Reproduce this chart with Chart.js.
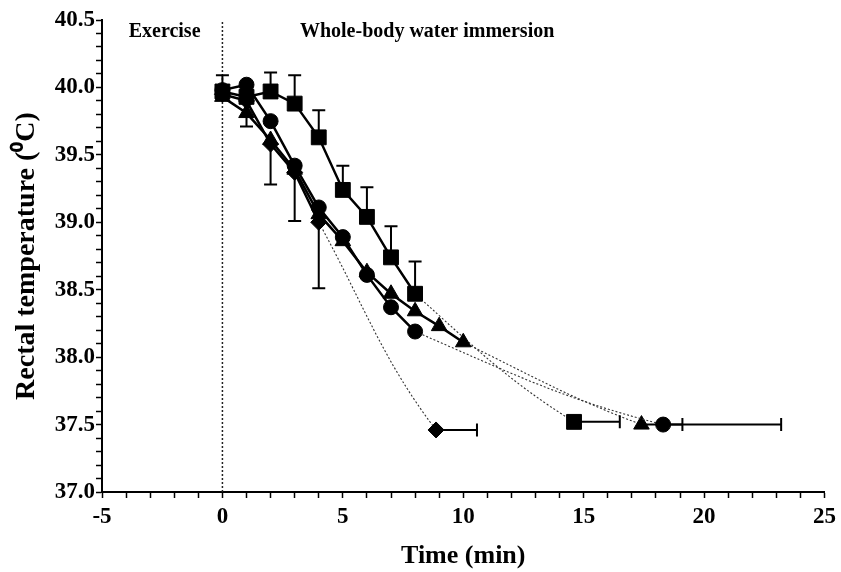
<!DOCTYPE html>
<html>
<head>
<meta charset="utf-8">
<script src="https://cdn.jsdelivr.net/npm/chart.js@4/dist/chart.umd.min.js"></script>
<style>
html,body{margin:0;padding:0;background:#fff;}
#wrap{width:841px;height:572px;}
</style>
</head>
<body>
<div id="wrap"><canvas id="c" width="841" height="572"></canvas></div>
<script>
// ---- data ----
const times = [0, 1, 2, 3, 4, 5, 6, 7, 8, 9, 10];
const squareTemp   = [39.97, 39.93, 39.97, 39.88, 39.63, 39.24, 39.04, 38.74, 38.47];
const circleTemp   = [39.98, 40.02, 39.75, 39.42, 39.11, 38.89, 38.61, 38.37, 38.19];
const triangleTemp = [39.93, 39.81, 39.61, 39.39, 39.06, 38.86, 38.63, 38.47, 38.34, 38.23, 38.11];
const diamondTemp  = [39.95, 39.90, 39.58, 39.37, 39.00];
// final (end-of-cooling) points: square, circle, triangle, diamond
const finalTimes    = [14.6, 18.3, 17.4, 8.87];
const finalTemps    = [37.52, 37.50, 37.50, 37.46];
const finalTimeEnds = [16.5, 23.2, 19.1, 10.57];
// vertical error bar ends
const squareErrTop      = [40.09, null, 40.11, 40.09, 39.83, 39.42, 39.26, 38.97, 38.71];
const triangleErrBottom = [null, 39.71];
const diamondErrBottom  = [null, null, 39.28, 39.01, 38.51];
// axis ticks
const yTickLabels = ['37.0','37.5','38.0','38.5','39.0','39.5','40.0','40.5'];
const xTickLabels = ['-5','0','5','10','15','20','25'];
const phaseLabels = ['Exercise', 'Whole-body water immersion'];

const FONT = '"Liberation Serif", "Times New Roman", serif';

function pts(xs, ys) { return ys.map((y, i) => ({x: xs[i], y: y})); }
// dotted fitted curve: last measured points -> final point (shaped toward the error-bar end)
function tail(series, fi) {
  const n = series.length;
  return [
    {x: times[n - 2], y: series[n - 2]},
    {x: times[n - 1], y: series[n - 1]},
    {x: finalTimes[fi], y: finalTemps[fi]},
    {x: finalTimeEnds[fi], y: finalTemps[fi]}
  ];
}

const styles = [
  {data: squareTemp, style: 'rect', r: 10.5},
  {data: circleTemp, style: 'circle', r: 7.5},
  {data: triangleTemp, style: 'triangle', r: 9},
  {data: diamondTemp, style: 'rectRot', r: 8}
];

const datasets = [];
// vertical dotted line at time 0
datasets.push({
  data: [{x: 0, y: 37.0}, {x: 0, y: 40.5}],
  showLine: true, borderColor: '#222', borderWidth: 1.5, borderDash: [2, 2],
  pointRadius: 0, order: 10
});
styles.forEach((s, fi) => {
  datasets.push({
    data: tail(s.data, fi),
    showLine: true, tension: 0.4,
    borderColor: '#333', borderWidth: 1.1, borderDash: [2, 2],
    segment: { borderColor: ctx => (ctx.p0DataIndex === 0 || ctx.p0DataIndex === 2) ? 'rgba(0,0,0,0)' : undefined },
    pointRadius: [0, 0, s.r, 0], pointStyle: s.style,
    pointBackgroundColor: '#000', pointBorderColor: '#000', pointBorderWidth: 1,
    order: 5
  });
  datasets.push({
    data: pts(times, s.data),
    showLine: true, tension: 0,
    borderColor: '#000', borderWidth: 2.5,
    pointRadius: s.r, pointStyle: s.style,
    pointBackgroundColor: '#000', pointBorderColor: '#000', pointBorderWidth: 1,
    order: 1
  });
});

const errorPlugin = {
  id: 'errbars',
  afterDatasetsDraw(chart) {
    const ctx = chart.ctx, xs = chart.scales.x, ys = chart.scales.y;
    ctx.save();
    ctx.strokeStyle = '#000';
    ctx.lineWidth = 2;
    const cap = 6.5;
    function vbar(t, v, end) {
      const px = xs.getPixelForValue(t), p0 = ys.getPixelForValue(v), p1 = ys.getPixelForValue(end);
      ctx.beginPath();
      ctx.moveTo(px, p0); ctx.lineTo(px, p1);
      ctx.moveTo(px - cap, p1); ctx.lineTo(px + cap, p1);
      ctx.stroke();
    }
    function hbar(t, v, end) {
      const py = ys.getPixelForValue(v), p0 = xs.getPixelForValue(t), p1 = xs.getPixelForValue(end);
      ctx.beginPath();
      ctx.moveTo(p0, py); ctx.lineTo(p1, py);
      ctx.moveTo(p1, py - cap); ctx.lineTo(p1, py + cap);
      ctx.stroke();
    }
    squareErrTop.forEach((e, i) => { if (e != null) vbar(times[i], squareTemp[i], e); });
    triangleErrBottom.forEach((e, i) => { if (e != null) vbar(times[i], triangleTemp[i], e); });
    diamondErrBottom.forEach((e, i) => { if (e != null) vbar(times[i], diamondTemp[i], e); });
    finalTimes.forEach((t, i) => hbar(t, finalTemps[i], finalTimeEnds[i]));

    ctx.fillStyle = '#000';
    ctx.font = 'bold 20px ' + FONT;
    ctx.textAlign = 'center';
    ctx.textBaseline = 'middle';
    ctx.fillText(phaseLabels[0], xs.getPixelForValue(-2.4), ys.getPixelForValue(40.41));
    ctx.fillText(phaseLabels[1], xs.getPixelForValue(8.5), ys.getPixelForValue(40.41));
    ctx.restore();
  }
};

function isMult(v, step) { const q = v / step; return Math.abs(q - Math.round(q)) < 1e-6; }

new Chart(document.getElementById('c'), {
  type: 'scatter',
  data: { datasets },
  plugins: [errorPlugin],
  options: {
    responsive: false,
    animation: false,
    devicePixelRatio: 1,
    layout: { padding: { left: 10, right: 12, top: 20, bottom: 0 } },
    plugins: { legend: { display: false }, tooltip: { enabled: false } },
    scales: {
      x: {
        type: 'linear', min: -5, max: 25,
        afterFit(s) { s.height = 80; },
        border: { display: true, color: '#000', width: 2 },
        grid: { drawOnChartArea: false, drawTicks: true, tickLength: 6, tickWidth: 1.5, tickColor: '#000' },
        ticks: {
          stepSize: 1, autoSkip: false, maxRotation: 0, padding: 5,
          color: '#000', font: { family: FONT, size: 23, weight: 'bold' },
          callback: v => isMult(v, 5) ? xTickLabels[Math.round((v + 5) / 5)] : ''
        },
        title: { display: true, text: 'Time (min)', color: '#000',
          font: { family: FONT, size: 26, weight: 'bold' }, padding: { top: 6, bottom: 0 } }
      },
      y: {
        type: 'linear', min: 37.0, max: 40.5,
        afterFit(s) { s.width = 92; },
        border: { display: true, color: '#000', width: 2 },
        grid: { drawOnChartArea: false, drawTicks: true, tickLength: 6, tickWidth: 1.5, tickColor: '#000' },
        ticks: {
          stepSize: 0.1, autoSkip: false, padding: 1,
          color: '#000', font: { family: FONT, size: 23, weight: 'bold' },
          callback: v => isMult(v - 37, 0.5) ? yTickLabels[Math.round((v - 37) / 0.5)] : ''
        },
        title: { display: true, text: 'Rectal temperature (\u2070C)', color: '#000',
          font: { family: FONT, size: 28, weight: 'bold' }, padding: { top: 0, bottom: 0 } }
      }
    }
  }
});
</script>
</body>
</html>
